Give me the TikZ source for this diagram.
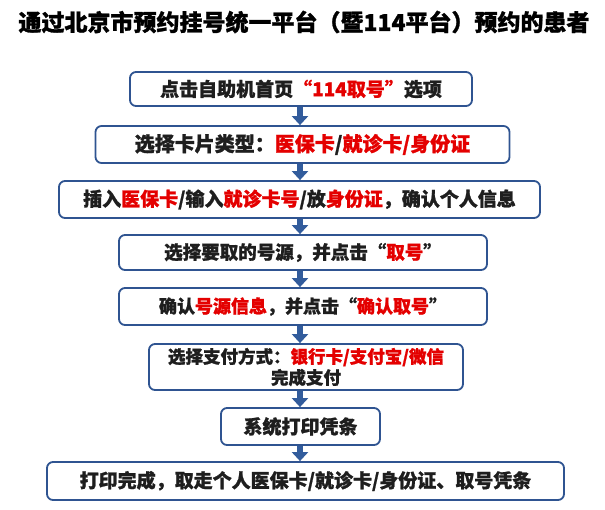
\documentclass[tikz,border=0pt]{standalone}
\usepackage{fontspec}
\setmainfont{Noto Sans CJK SC}[BoldFeatures={FakeBold=1.2}]
\usetikzlibrary{arrows.meta}
\definecolor{boxblue}{RGB}{47,84,145}
\definecolor{arrblue}{RGB}{50,92,156}
\definecolor{redtxt}{RGB}{228,0,0}
\definecolor{darktxt}{RGB}{30,30,30}
\newcommand{\rd}[1]{\textcolor{redtxt}{#1}}
\begin{document}
\begin{tikzpicture}[x=1pt,y=-1pt,
  stepbox/.style={draw=boxblue, line width=1.8pt, rounded corners=6pt, fill=white,
    inner sep=0pt, align=center, text=darktxt, font=\bfseries},
  flowarr/.style={draw=arrblue, line width=6pt,
    -{Triangle[width=16pt,length=9pt]}, arrblue}]
\useasboundingbox (0,0) rectangle (605,509);
\node[font=\bfseries\fontsize{23}{26}\selectfont, text=black] (title) at (304,22)
  {通过北京市预约挂号统一平台（暨114平台）预约的患者};
\coordinate (ax) at (300,0);
\node[stepbox, minimum width=342pt, minimum height=34pt, font=\bfseries\fontsize{19}{22}\selectfont] (b1) at (301,89)
  {点击自助机首页\rd{“114取号”}选项};
\node[stepbox, minimum width=414pt, minimum height=37pt, font=\bfseries\fontsize{20}{24}\selectfont] (b2) at (302.5,144.5)
  {选择卡片类型：\rd{医保卡}/\rd{就诊卡/身份证}};
\node[stepbox, minimum width=481pt, minimum height=37pt, font=\bfseries\fontsize{19}{22}\selectfont] (b3) at (299.5,199.5)
  {插入\rd{医保卡}/输入\rd{就诊卡号}/放\rd{身份证}，确认个人信息};
\node[stepbox, minimum width=368pt, minimum height=35pt, font=\bfseries\fontsize{18.5}{22}\selectfont] (b4) at (303,252.5)
  {选择要取的号源，并点击“\rd{取号}”};
\node[stepbox, minimum width=368pt, minimum height=37pt, font=\bfseries\fontsize{18}{22}\selectfont] (b5) at (303,306.5)
  {确认\rd{号源信息}，并点击“\rd{确认取号}”};
\node[stepbox, minimum width=314pt, minimum height=46pt, font=\bfseries\fontsize{17.5}{21}\selectfont] (b6) at (306,367)
  {选择支付方式：\rd{银行卡/支付宝/微信}\\完成支付};
\node[stepbox, minimum width=159pt, minimum height=37pt, font=\bfseries\fontsize{19}{22}\selectfont] (b7) at (300.5,426.5)
  {系统打印凭条};
\node[stepbox, minimum width=517pt, minimum height=38pt, font=\bfseries\fontsize{19}{22}\selectfont] (b8) at (305.5,481)
  {打印完成，取走个人医保卡/就诊卡/身份证、取号凭条};
\foreach \a/\b in {b1/b2,b2/b3,b3/b4,b4/b5,b5/b6,b6/b7,b7/b8}
  \draw[flowarr] (ax |- \a.south) -- (ax |- \b.north);
\end{tikzpicture}
\end{document}
